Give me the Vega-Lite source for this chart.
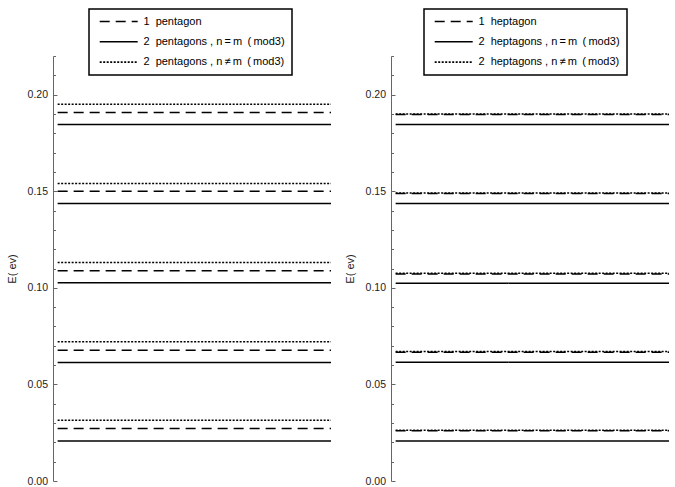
{
  "$schema": "https://vega.github.io/schema/vega-lite/v6.json",
  "background": "white",
  "padding": {"left": 6, "top": 8, "right": 5, "bottom": 5},
  "spacing": 12,
  "config": {
    "font": "Liberation Sans",
    "view": {"stroke": null},
    "axis": {
      "domainColor": "#666666",
      "tickColor": "#666666",
      "labelColor": "#222222",
      "labelFont": "Liberation Sans",
      "labelFontSize": 10.5,
      "titleFont": "Liberation Sans",
      "titleFontSize": 11,
      "titleFontWeight": "normal",
      "titleColor": "#222222",
      "grid": false,
      "labelFlush": false,
      "labelBound": false
    },
    "legend": {
      "labelFont": "Liberation Sans",
      "labelFontSize": 11,
      "labelColor": "#000000",
      "strokeColor": "#000000",
      "padding": 7,
      "cornerRadius": 0,
      "symbolType": "M-1.8,0H36.2",
      "symbolSize": 4,
      "symbolStrokeWidth": 1.6,
      "symbolStrokeColor": "#000000",
      "labelOffset": 36.4,
      "rowPadding": 8.3
    }
  },
  "data": {
    "values": [
      {"panel": "pentagon", "series": "1\u00a0 pentagon", "E": 0.0272, "x0": 0, "x1": 1},
      {"panel": "pentagon", "series": "1\u00a0 pentagon", "E": 0.0677, "x0": 0, "x1": 1},
      {"panel": "pentagon", "series": "1\u00a0 pentagon", "E": 0.1088, "x0": 0, "x1": 1},
      {"panel": "pentagon", "series": "1\u00a0 pentagon", "E": 0.1500, "x0": 0, "x1": 1},
      {"panel": "pentagon", "series": "1\u00a0 pentagon", "E": 0.1907, "x0": 0, "x1": 1},
      {"panel": "pentagon", "series": "2\u00a0 pentagons\u00a0, n\u2009=\u2009m\u2009 (\u2009mod3)", "E": 0.0207, "x0": 0, "x1": 1},
      {"panel": "pentagon", "series": "2\u00a0 pentagons\u00a0, n\u2009=\u2009m\u2009 (\u2009mod3)", "E": 0.0614, "x0": 0, "x1": 1},
      {"panel": "pentagon", "series": "2\u00a0 pentagons\u00a0, n\u2009=\u2009m\u2009 (\u2009mod3)", "E": 0.1026, "x0": 0, "x1": 1},
      {"panel": "pentagon", "series": "2\u00a0 pentagons\u00a0, n\u2009=\u2009m\u2009 (\u2009mod3)", "E": 0.1436, "x0": 0, "x1": 1},
      {"panel": "pentagon", "series": "2\u00a0 pentagons\u00a0, n\u2009=\u2009m\u2009 (\u2009mod3)", "E": 0.1846, "x0": 0, "x1": 1},
      {"panel": "pentagon", "series": "2\u00a0 pentagons\u00a0, n\u2009\u2260\u2009m\u2009 (\u2009mod3)", "E": 0.0315, "x0": 0, "x1": 1},
      {"panel": "pentagon", "series": "2\u00a0 pentagons\u00a0, n\u2009\u2260\u2009m\u2009 (\u2009mod3)", "E": 0.0721, "x0": 0, "x1": 1},
      {"panel": "pentagon", "series": "2\u00a0 pentagons\u00a0, n\u2009\u2260\u2009m\u2009 (\u2009mod3)", "E": 0.1131, "x0": 0, "x1": 1},
      {"panel": "pentagon", "series": "2\u00a0 pentagons\u00a0, n\u2009\u2260\u2009m\u2009 (\u2009mod3)", "E": 0.1540, "x0": 0, "x1": 1},
      {"panel": "pentagon", "series": "2\u00a0 pentagons\u00a0, n\u2009\u2260\u2009m\u2009 (\u2009mod3)", "E": 0.1950, "x0": 0, "x1": 1},
      {"panel": "heptagon", "series": "1\u00a0 heptagon", "E": 0.0260, "x0": 0, "x1": 1},
      {"panel": "heptagon", "series": "1\u00a0 heptagon", "E": 0.0667, "x0": 0, "x1": 1},
      {"panel": "heptagon", "series": "1\u00a0 heptagon", "E": 0.1072, "x0": 0, "x1": 1},
      {"panel": "heptagon", "series": "1\u00a0 heptagon", "E": 0.1488, "x0": 0, "x1": 1},
      {"panel": "heptagon", "series": "1\u00a0 heptagon", "E": 0.1897, "x0": 0, "x1": 1},
      {"panel": "heptagon", "series": "2\u00a0 heptagons\u00a0, n\u2009=\u2009m\u2009 (\u2009mod3)", "E": 0.0207, "x0": 0, "x1": 1},
      {"panel": "heptagon", "series": "2\u00a0 heptagons\u00a0, n\u2009=\u2009m\u2009 (\u2009mod3)", "E": 0.0615, "x0": 0, "x1": 1},
      {"panel": "heptagon", "series": "2\u00a0 heptagons\u00a0, n\u2009=\u2009m\u2009 (\u2009mod3)", "E": 0.1024, "x0": 0, "x1": 1},
      {"panel": "heptagon", "series": "2\u00a0 heptagons\u00a0, n\u2009=\u2009m\u2009 (\u2009mod3)", "E": 0.1436, "x0": 0, "x1": 1},
      {"panel": "heptagon", "series": "2\u00a0 heptagons\u00a0, n\u2009=\u2009m\u2009 (\u2009mod3)", "E": 0.1846, "x0": 0, "x1": 1},
      {"panel": "heptagon", "series": "2\u00a0 heptagons\u00a0, n\u2009\u2260\u2009m\u2009 (\u2009mod3)", "E": 0.0263, "x0": 0, "x1": 1},
      {"panel": "heptagon", "series": "2\u00a0 heptagons\u00a0, n\u2009\u2260\u2009m\u2009 (\u2009mod3)", "E": 0.0670, "x0": 0, "x1": 1},
      {"panel": "heptagon", "series": "2\u00a0 heptagons\u00a0, n\u2009\u2260\u2009m\u2009 (\u2009mod3)", "E": 0.1075, "x0": 0, "x1": 1},
      {"panel": "heptagon", "series": "2\u00a0 heptagons\u00a0, n\u2009\u2260\u2009m\u2009 (\u2009mod3)", "E": 0.1491, "x0": 0, "x1": 1},
      {"panel": "heptagon", "series": "2\u00a0 heptagons\u00a0, n\u2009\u2260\u2009m\u2009 (\u2009mod3)", "E": 0.1900, "x0": 0, "x1": 1}
    ]
  },
  "resolve": {"scale": {"strokeDash": "independent"}, "legend": {"strokeDash": "independent"}},
  "hconcat": [
    {
      "width": 278,
      "height": 425,
      "transform": [{"filter": "datum.panel == 'pentagon'"}],
      "mark": {"type": "rule", "strokeWidth": 1.5, "color": "#000000"},
      "encoding": {
        "x": {"field": "x0", "type": "quantitative", "scale": {"domain": [-0.017, 1], "nice": false, "zero": false}, "axis": null},
        "x2": {"field": "x1"},
        "y": {
          "field": "E", "type": "quantitative",
          "scale": {"domain": [0, 0.22], "nice": false, "zero": false},
          "axis": {
            "title": "E( ev)",
            "values": [0, 0.01, 0.02, 0.03, 0.04, 0.05, 0.06, 0.07, 0.08, 0.09, 0.1, 0.11, 0.12, 0.13, 0.14, 0.15, 0.16, 0.17, 0.18, 0.19, 0.2, 0.21, 0.22],
            "labelExpr": "abs(round(datum.value*100)) % 5 == 0 ? format(datum.value, '.2f') : ''",
            "tickSize": {"condition": {"test": "abs(round(datum.value*100)) % 5 == 0", "value": -4}, "value": -2.5},
            "labelPadding": 9.5,
            "titlePadding": 10
          }
        },
        "strokeDash": {
          "field": "series", "type": "nominal",
          "scale": {
            "domain": ["1\u00a0 pentagon", "2\u00a0 pentagons\u00a0, n\u2009=\u2009m\u2009 (\u2009mod3)", "2\u00a0 pentagons\u00a0, n\u2009\u2260\u2009m\u2009 (\u2009mod3)"],
            "range": [[10, 6], [1, 0], [2, 1.5]]
          },
          "legend": {"orient": "none", "legendX": 36, "legendY": -47, "title": null, "encode": {"legend": {"update": {"strokeWidth": {"value": 1.5}}}}}
        }
      }
    },
    {
      "width": 278,
      "height": 425,
      "transform": [{"filter": "datum.panel == 'heptagon'"}],
      "mark": {"type": "rule", "strokeWidth": 1.5, "color": "#000000"},
      "encoding": {
        "x": {"field": "x0", "type": "quantitative", "scale": {"domain": [-0.017, 1], "nice": false, "zero": false}, "axis": null},
        "x2": {"field": "x1"},
        "y": {
          "field": "E", "type": "quantitative",
          "scale": {"domain": [0, 0.22], "nice": false, "zero": false},
          "axis": {
            "title": "E( ev)",
            "values": [0, 0.01, 0.02, 0.03, 0.04, 0.05, 0.06, 0.07, 0.08, 0.09, 0.1, 0.11, 0.12, 0.13, 0.14, 0.15, 0.16, 0.17, 0.18, 0.19, 0.2, 0.21, 0.22],
            "labelExpr": "abs(round(datum.value*100)) % 5 == 0 ? format(datum.value, '.2f') : ''",
            "tickSize": {"condition": {"test": "abs(round(datum.value*100)) % 5 == 0", "value": -4}, "value": -2.5},
            "labelPadding": 9.5,
            "titlePadding": 10
          }
        },
        "strokeDash": {
          "field": "series", "type": "nominal",
          "scale": {
            "domain": ["1\u00a0 heptagon", "2\u00a0 heptagons\u00a0, n\u2009=\u2009m\u2009 (\u2009mod3)", "2\u00a0 heptagons\u00a0, n\u2009\u2260\u2009m\u2009 (\u2009mod3)"],
            "range": [[10, 6], [1, 0], [2, 1.5]]
          },
          "legend": {"orient": "none", "legendX": 33, "legendY": -47, "title": null, "encode": {"legend": {"update": {"strokeWidth": {"value": 1.5}}}}}
        }
      }
    }
  ]
}
